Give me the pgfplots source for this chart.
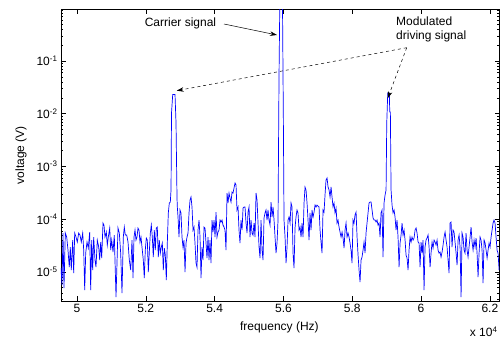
\documentclass[border=0pt]{standalone}
\usepackage{fontspec}
\setmainfont{Liberation Sans}
\usepackage{pgfplots}
\usepackage{pgfplotstable}
\pgfplotsset{compat=1.18}
\usetikzlibrary{arrows.meta}
\pgfplotstableread{
f v
49535 1.18e-5
49564 5.62e-6
49593 5.45e-5
49622 4.93e-6
49660 5.45e-5
49701 4.58e-5
49738 2.59e-5
49776 1.23e-5
49805 2.96e-5
49834 1.08e-5
49875 4.01e-5
49904 9.49e-6
49933 5.45e-5
49971 4.58e-5
50009 3.68e-5
50049 5.45e-5
50087 4.99e-5
50125 3.68e-5
50166 5.45e-5
50195 2.59e-5
50224 4.52e-6
50253 2.27e-5
50291 3.68e-5
50328 2.83e-5
50369 5.69e-5
50398 4.52e-6
50427 4.01e-5
50456 1.08e-5
50485 4.58e-5
50523 1.68e-5
50552 1.23e-5
50590 4.01e-5
50631 2.96e-5
50660 1.68e-5
50689 3.68e-5
50718 1.83e-5
50756 8.43e-5
50785 7.73e-5
50814 4.58e-5
50852 5.69e-5
50881 3.23e-5
50910 4.58e-5
50951 6.78e-5
50980 2.59e-5
51009 4.01e-5
51047 2.38e-5
51084 4.99e-5
51134 3.33e-6
51192 6.78e-5
51230 5.45e-5
51270 2.27e-5
51308 3.96e-6
51346 4.58e-5
51375 7.08e-5
51404 4.99e-5
51445 4.99e-5
51483 3.68e-5
51520 1.68e-5
51561 1.08e-5
51599 4.01e-5
51628 7.63e-6
51657 4.58e-5
51686 6.21e-5
51715 4.01e-5
51744 4.58e-5
51773 6.78e-5
51802 6.21e-5
51831 3.68e-5
51860 4.58e-5
51898 2.59e-5
51927 1.68e-5
51956 7.63e-6
51985 2.59e-5
52015 4.38e-5
52044 4.01e-5
52073 9.91e-6
52102 2.38e-5
52131 5.45e-5
52160 7.73e-5
52189 4.58e-5
52218 1.91e-5
52247 6.21e-5
52276 2.59e-5
52305 6.78e-5
52334 7.08e-5
52363 1.91e-5
52392 4.01e-5
52422 2.27e-5
52451 2.96e-5
52480 3.52e-5
52509 1.08e-5
52538 2.83e-5
52567 2.08e-5
52596 6.99e-6
52625 3.52e-5
52654 1.31e-4
52683 2.02e-4
52712 2.11e-4
52733 3.57e-4
52747 1.03e-2
52782 2.31e-2
52849 2.31e-2
52878 6.66e-3
52907 2.50e-4
52916 1.70e-4
52936 1.10e-4
52965 4.58e-5
52994 1.49e-4
53023 1.31e-4
53052 4.58e-5
53081 2.96e-5
53110 4.01e-5
53140 9.91e-6
53169 3.52e-5
53198 4.58e-5
53227 5.45e-5
53256 1.31e-4
53285 2.30e-4
53314 2.63e-4
53343 1.70e-4
53372 6.21e-5
53401 7.08e-5
53430 3.52e-5
53459 1.47e-5
53488 1.23e-5
53517 6.21e-5
53547 9.61e-5
53576 4.58e-5
53605 7.63e-6
53634 2.96e-5
53663 1.68e-5
53692 7.08e-5
53721 6.78e-5
53750 3.52e-5
53779 1.83e-5
53808 4.58e-5
53837 1.68e-5
53866 4.01e-5
53895 1.47e-5
53924 9.61e-5
53954 5.69e-5
53983 9.61e-5
54012 4.58e-5
54041 1.36e-4
54070 4.58e-5
54099 5.69e-5
54128 6.21e-5
54157 9.61e-5
54186 8.81e-5
54215 9.61e-5
54244 7.73e-5
54273 7.08e-5
54302 6.21e-5
54331 2.59e-5
54361 3.13e-4
54390 2.02e-4
54419 3.13e-4
54448 2.51e-4
54477 2.11e-4
54506 3.27e-4
54535 3.13e-4
54564 3.89e-4
54593 4.84e-4
54622 4.44e-4
54651 1.49e-4
54680 1.70e-4
54709 6.21e-5
54738 3.52e-5
54767 9.61e-5
54797 6.21e-5
54826 1.62e-4
54855 1.70e-4
54884 1.70e-4
54913 8.43e-5
54942 5.45e-5
54971 1.36e-4
55000 1.70e-4
55029 4.58e-5
55058 9.61e-5
55087 5.45e-5
55116 4.99e-5
55145 8.43e-5
55174 4.58e-5
55204 3.13e-4
55233 2.30e-4
55262 8.43e-5
55291 2.96e-5
55320 1.83e-5
55349 9.61e-5
55378 2.59e-5
55407 1.68e-5
55436 1.05e-4
55465 1.31e-4
55494 1.49e-4
55523 9.61e-5
55552 1.49e-4
55581 9.61e-5
55611 7.73e-5
55640 2.11e-4
55669 1.10e-4
55698 1.70e-4
55727 9.61e-5
55756 4.58e-5
55785 2.27e-5
55814 3.52e-5
55843 9.61e-5
55872 5.42e-2
55901 3
55968 3
55998 7.60e-3
56017 9.61e-5
56047 4.58e-5
56076 1.47e-5
56105 2.96e-5
56134 9.61e-5
56163 1.10e-4
56192 8.43e-5
56221 2.02e-4
56250 1.70e-4
56279 2.27e-5
56308 1.18e-5
56337 6.78e-5
56366 1.10e-4
56395 1.49e-4
56424 1.31e-4
56454 6.21e-5
56483 7.08e-5
56512 4.58e-5
56541 8.43e-5
56570 4.58e-5
56599 2.02e-4
56628 4.07e-4
56657 3.57e-4
56686 2.02e-4
56715 9.61e-5
56744 4.01e-5
56773 1.31e-4
56802 6.21e-5
56831 1.49e-4
56861 1.10e-4
56890 1.36e-4
56919 1.85e-4
56948 1.70e-4
56977 1.85e-4
57006 1.77e-4
57035 1.70e-4
57064 6.21e-5
57093 3.68e-5
57122 2.27e-5
57151 1.49e-4
57180 1.36e-4
57209 2.87e-4
57238 5.52e-4
57268 6.03e-4
57297 4.07e-4
57326 3.57e-4
57355 2.63e-4
57384 4.07e-4
57413 2.63e-4
57442 1.70e-4
57471 2.02e-4
57500 1.31e-4
57529 1.62e-4
57558 8.43e-5
57587 9.61e-5
57616 7.08e-5
57645 5.69e-5
57675 4.58e-5
57704 5.69e-5
57733 4.38e-5
57762 2.83e-5
57791 6.21e-5
57820 8.43e-5
57849 4.58e-5
57878 5.45e-5
57907 4.58e-5
57936 3.52e-5
57965 2.59e-5
57994 1.47e-5
58023 9.61e-5
58052 8.43e-5
58081 1.20e-4
58111 1.36e-4
58140 4.58e-5
58169 2.08e-5
58198 1.08e-5
58227 6.41e-6
58256 1.68e-5
58285 1.91e-5
58314 2.59e-5
58343 3.68e-5
58372 2.27e-5
58401 5.45e-5
58430 8.43e-5
58459 1.31e-4
58488 2.02e-4
58518 2.11e-4
58547 2.11e-4
58576 1.49e-4
58605 1.05e-4
58634 9.61e-5
58663 9.61e-5
58692 8.81e-5
58721 9.61e-5
58750 7.73e-5
58779 8.43e-5
58808 4.58e-5
58837 1.31e-4
58866 1.49e-4
58895 1.91e-5
58924 2.02e-4
58954 2.87e-4
58983 3.57e-4
59003 6.66e-3
59032 2.47e-2
59078 2.47e-2
59090 1.08e-2
59108 1.08e-2
59128 3.57e-4
59157 1.85e-4
59186 1.31e-4
59215 1.49e-4
59244 1.10e-4
59273 6.21e-5
59302 9.61e-5
59331 4.58e-5
59361 1.23e-5
59390 3.52e-5
59419 4.99e-5
59448 8.43e-5
59477 4.99e-5
59506 6.21e-5
59535 4.01e-5
59564 2.08e-5
59593 1.83e-5
59622 1.08e-5
59651 2.59e-5
59680 4.58e-5
59709 3.68e-5
59738 4.58e-5
59768 4.01e-5
59797 4.38e-5
59826 6.21e-5
59855 6.78e-5
59884 5.45e-5
59913 3.68e-5
59942 3.52e-5
59971 1.23e-5
60000 3.68e-5
60029 2.27e-5
60058 4.01e-5
60087 4.52e-6
60116 2.96e-5
60145 4.01e-5
60175 4.38e-5
60204 4.99e-5
60233 2.96e-5
60262 1.23e-5
60291 2.27e-5
60320 3.68e-5
60349 2.83e-5
60378 4.01e-5
60407 3.68e-5
60436 3.23e-5
60465 4.01e-5
60494 2.59e-5
60523 2.27e-5
60552 2.38e-5
60581 1.91e-5
60611 2.38e-5
60640 3.23e-5
60669 4.58e-5
60698 5.69e-5
60727 4.01e-5
60756 2.96e-5
60785 1.68e-5
60814 9.49e-6
60843 8.43e-5
60872 8.81e-5
60901 2.96e-5
60930 6.21e-5
60959 5.69e-5
60988 3.68e-5
61018 2.27e-5
61047 1.35e-5
61076 4.01e-5
61105 4.99e-5
61134 2.96e-5
61163 3.33e-6
61192 5.45e-5
61221 4.58e-5
61250 2.59e-5
61279 2.27e-5
61308 5.45e-5
61337 2.59e-5
61366 1.91e-5
61395 2.96e-5
61425 4.58e-5
61454 7.08e-5
61483 3.68e-5
61512 2.59e-5
61541 4.01e-5
61570 2.96e-5
61599 4.38e-5
61628 2.27e-5
61657 7.97e-6
61686 2.27e-5
61715 4.58e-5
61744 4.01e-5
61773 2.59e-5
61802 6.13e-6
61832 4.01e-5
61861 3.52e-5
61890 2.59e-5
61919 1.83e-5
61948 2.59e-5
61977 3.52e-5
62006 2.96e-5
62035 4.58e-5
62064 6.21e-5
62093 8.43e-5
62122 9.61e-5
62151 8.43e-5
62180 4.58e-5
62209 2.59e-5
62238 2.27e-5
62268 1.08e-5
}\spectrum
\begin{document}
\begin{tikzpicture}[font=\fontsize{12}{13.3}\selectfont]
\begin{axis}[
  at={(0,0)}, anchor=south west,
  scale only axis, width=438.5pt, height=292pt,
  ymode=log,
  xmin=49535, xmax=62280, ymin=2.8e-6, ymax=0.97,
  xtick={50000,52000,...,62000},
  xticklabels={5,5.2,5.4,5.6,5.8,6,6.2},
  scaled x ticks=false,
  ytick={1e-5,1e-4,1e-3,1e-2,1e-1},
  yticklabels={10\textsuperscript{-5},10\textsuperscript{-4},10\textsuperscript{-3},10\textsuperscript{-2},10\textsuperscript{-1}},
  minor ytick={3e-6,4e-6,5e-6,6e-6,7e-6,8e-6,9e-6,
    2e-5,3e-5,4e-5,5e-5,6e-5,7e-5,8e-5,9e-5,
    2e-4,3e-4,4e-4,5e-4,6e-4,7e-4,8e-4,9e-4,
    2e-3,3e-3,4e-3,5e-3,6e-3,7e-3,8e-3,9e-3,
    2e-2,3e-2,4e-2,5e-2,6e-2,7e-2,8e-2,9e-2,
    2e-1,3e-1,4e-1,5e-1,6e-1,7e-1,8e-1,9e-1},
  tick align=inside,
  major tick length=5pt, minor tick length=2.5pt,
  xlabel={frequency (Hz)}, ylabel={voltage (V)},
  every axis x label/.style={at={(axis description cs:0.498,-0.089)},anchor=center},
  every axis y label/.style={at={(axis description cs:-0.0912,0.5)},rotate=90,anchor=center},
  axis line style={black, line width=0.6pt},
  every tick/.style={black, line width=0.5pt},
]
\addplot[blue, line width=0.7pt] table[x=f,y=v]{\spectrum};
\end{axis}
\node at (119.5pt,277.7pt) {Carrier signal};
\draw[-{Stealth[length=7pt,width=4.5pt]}, line width=0.5pt] (163pt,277pt) -- (216pt,266pt);
\node[anchor=west, align=left] at (331.7pt,271.7pt) {Modulated\\driving signal};
\draw[dashed, -{Stealth[length=7pt,width=4.5pt]}, line width=0.5pt] (345.7pt,253.3pt) -- (115.7pt,210.3pt);
\draw[dashed, -{Stealth[length=7pt,width=4.5pt]}, line width=0.5pt] (345.7pt,253.3pt) -- (326.7pt,202.7pt);
\node[anchor=east] at (440pt,-31pt) {x 10\textsuperscript{4}};
\pgfresetboundingbox
\path[use as bounding box] (-61pt,-40pt) rectangle (440pt,301pt);
\end{tikzpicture}
\end{document}
